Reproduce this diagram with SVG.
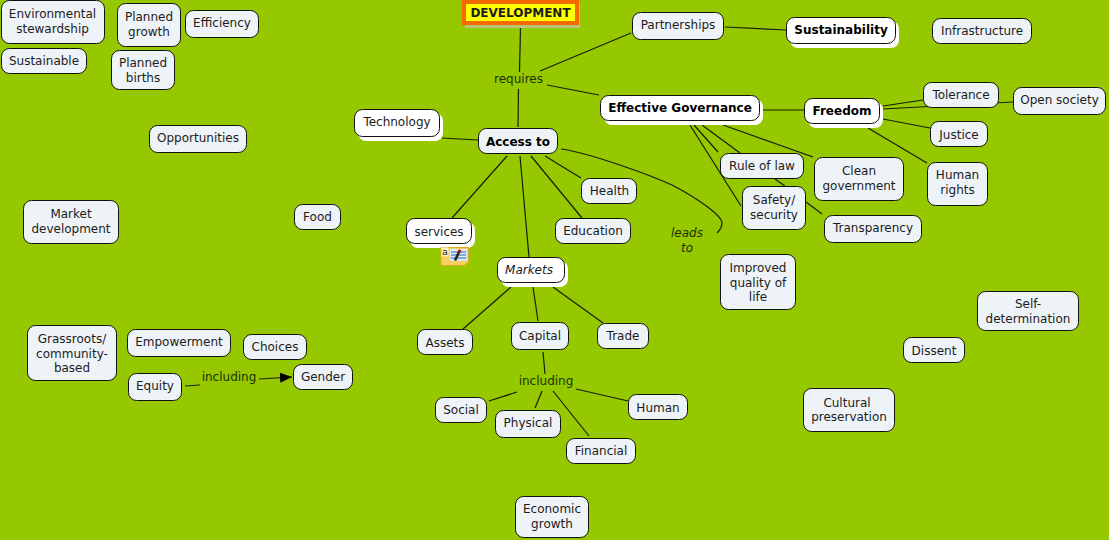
<svg xmlns="http://www.w3.org/2000/svg" width="1109" height="540" viewBox="0 0 1109 540">
<style>
text{font-family:"DejaVu Sans",Verdana,sans-serif;font-size:12px;fill:#1c1c1c;text-anchor:middle}
.n rect{fill:#eef3f7;stroke:#111;stroke-width:1}
.w rect{fill:#fff;stroke:#111;stroke-width:1}
.w rect.s,.dev rect.s{stroke:none}
.w rect.s{fill:#fff}
.b text{font-weight:bold;fill:#000}
.l{fill:#1a3300}
#connectors path{fill:none;stroke:#142000;stroke-width:1.200}
</style>
<defs><marker id="a" markerWidth="14" markerHeight="10" refX="12" refY="5" orient="auto" markerUnits="userSpaceOnUse"><path d="M0 0L12 5L0 10Z" fill="#000"/></marker></defs>
<rect width="1109" height="540" fill="#96c800"/>
<g id="connectors">
<path d="M520.500 27L519.500 72M518.500 89L518 127M540 71L631 33M547 85L599 95M442 138L478 140M725 27L786 30M760 110L804 110M883 106L923 100M883 109L1013 102M883 119L930 128M868 128L927 163"/>
<path d="M694 125L718 152M702 125L740 153M723 125L813 157M690 125L741 206M775 179L785 186M806 202L822 214"/>
<path d="M507 156L452 218M520 156L529 257M531 156L582 218M545 156L581 178M561 149C590 153 650 175 672 185C695 197 722 215 722 223C722 228 719 231 717 233"/>
<path d="M511 287L463 329M533 287L538 321M553 287L603 323M543 352L545 374M517 392L489 401M542 391L535 408M553 391L589 436M576 389L628 401"/>
<path d="M185 386L200 385M259 379L292 377" marker-end="url(#a)"/>
</g>
<g id="labels">
<text class="l" x="518.500" y="83">requires</text>
<text class="l" x="546" y="385">including</text>
<text class="l" x="229" y="381">including</text>
<text class="l" x="687" y="237" font-style="italic">leads</text>
<text class="l" x="687" y="252" font-style="italic">to</text>
</g>
<g id="n-development" class="dev"><rect class="s" x="465" y="3" width="115" height="25" fill="#b9c47a"/><rect x="464" y="2" width="113" height="21" fill="#ff0" stroke="#f26a00" stroke-width="4"/><text x="520.500" y="17" font-weight="bold" fill="#000">DEVELOPMENT</text></g>
<g id="n-env" class="n"><rect x="1.500" y="0.500" width="103" height="43" rx="8"/><text x="52.500" y="18">Environmental</text><text x="52.500" y="33">stewardship</text></g>
<g id="n-pgrowth" class="n"><rect x="117.500" y="3.500" width="63" height="43" rx="8"/><text x="149" y="21">Planned</text><text x="149" y="36">growth</text></g>
<g id="n-eff" class="n"><rect x="185.500" y="10.500" width="73" height="27" rx="8"/><text x="222" y="27">Efficiency</text></g>
<g id="n-sust" class="n"><rect x="1.500" y="48.500" width="85" height="25" rx="8"/><text x="44" y="65">Sustainable</text></g>
<g id="n-pbirths" class="n"><rect x="111.500" y="50.500" width="63" height="39" rx="8"/><text x="143" y="67">Planned</text><text x="143" y="82">births</text></g>
<g id="n-opp" class="n"><rect x="149.500" y="125.500" width="97" height="27" rx="8"/><text x="198" y="142">Opportunities</text></g>
<g id="n-market" class="n"><rect x="23.500" y="200.500" width="95" height="43" rx="8"/><text x="71" y="218">Market</text><text x="71" y="233">development</text></g>
<g id="n-food" class="n"><rect x="294.500" y="204.500" width="46" height="25" rx="8"/><text x="317.500" y="221">Food</text></g>
<g id="n-tech" class="w"><rect class="s" x="358" y="113" width="85" height="28" rx="8"/><rect x="354.500" y="109.500" width="85" height="27" rx="8"/><text x="397" y="126">Technology</text></g>
<g id="n-access" class="n b"><rect x="478.500" y="128.500" width="79" height="25" rx="8"/><text x="518" y="146">Access to</text></g>
<g id="n-services" class="w"><rect class="s" x="410" y="222" width="65" height="26" rx="8"/><rect x="406.500" y="218.500" width="65" height="25" rx="8"/><text x="439" y="236">services</text></g>
<g id="n-note"><path d="M441 247.500H468.500V262L464 265.500H441Z" fill="#f7cf5a" stroke="#e0a92a"/><rect x="441.500" y="247.500" width="7" height="9" fill="#fff3c0"/><rect x="450" y="249" width="17" height="12" fill="#d8ecf8"/><path d="M451 252H466M451 255H466M451 258H466" stroke="#2a6db0"/><path d="M455 260.500L459 252" stroke="#222" stroke-width="2.500"/><circle cx="459.500" cy="251" r="1.600" fill="#c00000"/><text x="444.800" y="255" style="font-size:9.500px" fill="#000">a</text></g>
<g id="n-markets" class="w"><rect class="s" x="501" y="261" width="67" height="26" rx="8"/><rect x="497.500" y="257.500" width="67" height="25" rx="8"/><text x="529" y="274" font-style="italic">Markets</text></g>
<g id="n-health" class="n"><rect x="581.500" y="178.500" width="55" height="25" rx="8"/><text x="609.500" y="195">Health</text></g>
<g id="n-edu" class="n"><rect x="555.500" y="218.500" width="75" height="25" rx="8"/><text x="593" y="235">Education</text></g>
<g id="n-partner" class="n"><rect x="632.500" y="12.500" width="91" height="27" rx="8"/><text x="678" y="29">Partnerships</text></g>
<g id="n-sustain" class="w b"><rect class="s" x="790" y="21" width="109" height="27" rx="8"/><rect x="786.500" y="17.500" width="109" height="26" rx="8"/><text x="841" y="34">Sustainability</text></g>
<g id="n-infra" class="n"><rect x="932.500" y="18.500" width="99" height="25" rx="8"/><text x="982" y="35">Infrastructure</text></g>
<g id="n-gov" class="w b"><rect class="s" x="604" y="99" width="159" height="26" rx="8"/><rect x="600.500" y="95.500" width="159" height="25" rx="8"/><text x="680" y="112">Effective Governance</text></g>
<g id="n-freedom" class="w b"><rect class="s" x="808" y="102" width="75" height="26" rx="8"/><rect x="804.500" y="98.500" width="75" height="25" rx="8"/><text x="842" y="115">Freedom</text></g>
<g id="n-tol" class="n"><rect x="923.500" y="82.500" width="75" height="25" rx="8"/><text x="961" y="99">Tolerance</text></g>
<g id="n-open" class="n"><rect x="1013.500" y="87.500" width="92" height="27" rx="8"/><text x="1059.500" y="104">Open society</text></g>
<g id="n-justice" class="n"><rect x="930.500" y="121.500" width="57" height="25" rx="8"/><text x="959" y="139">Justice</text></g>
<g id="n-hrights" class="n"><rect x="927.500" y="162.500" width="60" height="43" rx="8"/><text x="957.500" y="179">Human</text><text x="957.500" y="194">rights</text></g>
<g id="n-rule" class="n"><rect x="720.500" y="153.500" width="83" height="25" rx="8"/><text x="762" y="170">Rule of law</text></g>
<g id="n-clean" class="n"><rect x="814.500" y="157.500" width="89" height="43" rx="8"/><text x="859" y="175">Clean</text><text x="859" y="190">government</text></g>
<g id="n-safety" class="n"><rect x="742.500" y="186.500" width="63" height="43" rx="8"/><text x="774" y="204">Safety/</text><text x="774" y="219">security</text></g>
<g id="n-transp" class="n"><rect x="824.500" y="215.500" width="97" height="27" rx="8"/><text x="873" y="232">Transparency</text></g>
<g id="n-quality" class="n"><rect x="720.500" y="254.500" width="75" height="55" rx="8"/><text x="758" y="272">Improved</text><text x="758" y="287">quality of</text><text x="758" y="301">life</text></g>
<g id="n-self" class="n"><rect x="977.500" y="291.500" width="101" height="39" rx="8"/><text x="1028" y="308">Self-</text><text x="1028" y="323">determination</text></g>
<g id="n-dissent" class="n"><rect x="903.500" y="337.500" width="61" height="25" rx="8"/><text x="934" y="355">Dissent</text></g>
<g id="n-cultural" class="n"><rect x="803.500" y="388.500" width="91" height="43" rx="8"/><text x="847" y="407">Cultural</text><text x="849" y="421">preservation</text></g>
<g id="n-assets" class="n"><rect x="417.500" y="329.500" width="55" height="25" rx="8"/><text x="445" y="347">Assets</text></g>
<g id="n-capital" class="n"><rect x="511.500" y="322.500" width="57" height="27" rx="8"/><text x="540" y="340">Capital</text></g>
<g id="n-trade" class="n"><rect x="597.500" y="323.500" width="51" height="25" rx="8"/><text x="623" y="340">Trade</text></g>
<g id="n-social" class="n"><rect x="435.500" y="397.500" width="51" height="25" rx="8"/><text x="461" y="414">Social</text></g>
<g id="n-physical" class="n"><rect x="495.500" y="410.500" width="65" height="27" rx="8"/><text x="528" y="427">Physical</text></g>
<g id="n-human" class="n"><rect x="628.500" y="394.500" width="59" height="25" rx="8"/><text x="658" y="412">Human</text></g>
<g id="n-financial" class="n"><rect x="566.500" y="438.500" width="69" height="25" rx="8"/><text x="601" y="455">Financial</text></g>
<g id="n-econ" class="n"><rect x="515.500" y="496.500" width="73" height="41" rx="8"/><text x="552" y="513">Economic</text><text x="552" y="528">growth</text></g>
<g id="n-grass" class="n"><rect x="27.500" y="325.500" width="89" height="55" rx="8"/><text x="72" y="343">Grassroots/</text><text x="72" y="358">community-</text><text x="72" y="372">based</text></g>
<g id="n-emp" class="n"><rect x="127.500" y="329.500" width="103" height="27" rx="8"/><text x="179" y="346">Empowerment</text></g>
<g id="n-choices" class="n"><rect x="243.500" y="334.500" width="63" height="25" rx="8"/><text x="275" y="351">Choices</text></g>
<g id="n-equity" class="n"><rect x="128.500" y="373.500" width="53" height="27" rx="8"/><text x="155" y="390">Equity</text></g>
<g id="n-gender" class="n"><rect x="293.500" y="364.500" width="59" height="25" rx="8"/><text x="323" y="381">Gender</text></g>
</svg>
